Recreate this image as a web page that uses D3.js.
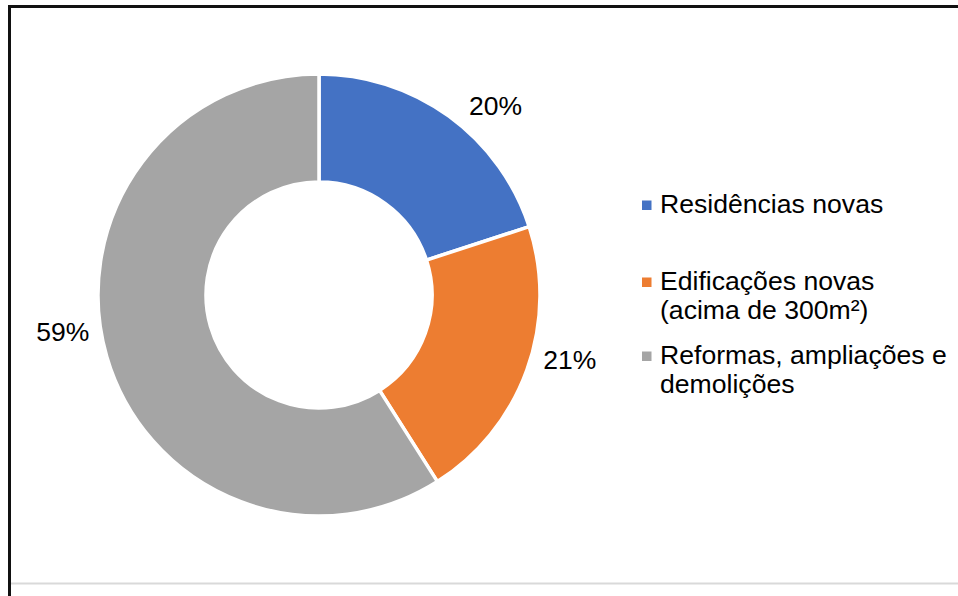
<!DOCTYPE html>
<html>
<head>
<meta charset="utf-8">
<script src="https://cdn.jsdelivr.net/npm/d3@7"></script>
<style>
  html, body { margin: 0; padding: 0; background: #fff; }
  svg { display: block; }
  text { font-family: "Liberation Sans", Arial, sans-serif; fill: #000; }
</style>
</head>
<body>
<svg id="chart" width="958" height="596"></svg>
<script>
// Share of each category (percent)
const categories = ["Residências novas", "Edificações novas (acima de 300m²)", "Reformas, ampliações e demolições"];
const values = [20, 21, 59];
const valueLabels = ["20%", "21%", "59%"];
// Legend text, broken into lines
const legendLines = [["Residências novas"], ["Edificações novas", "(acima de 300m²)"], ["Reformas, ampliações e", "demolições"]];
const colors = ["#4472C4", "#ED7D31", "#A5A5A5"];

const svg = d3.select("#chart");
const W = 958, H = 596;

// Frame: dark outline and a light rule near the bottom
svg.append("rect")
  .attr("x", 9.5).attr("y", 6.5)
  .attr("width", W + 20).attr("height", H + 20)
  .attr("fill", "none").attr("stroke", "#111").attr("stroke-width", 3);
svg.append("line")
  .attr("x1", 11).attr("x2", W).attr("y1", 583.5).attr("y2", 583.5)
  .attr("stroke", "#d9d9d9").attr("stroke-width", 2);

// Doughnut
const cx = 319, cy = 295, outerR = 221, innerR = 113;
const pie = d3.pie().sort(null).value(d => d)(values);
const arc = d3.arc().innerRadius(innerR).outerRadius(outerR);

const g = svg.append("g").attr("transform", `translate(${cx},${cy})`);
g.selectAll("path.slice")
  .data(pie)
  .join("path")
  .attr("class", "slice")
  .attr("d", arc)
  .attr("fill", (d, i) => colors[i])
  .attr("stroke", "#fff")
  .attr("stroke-width", 3.5)
  .attr("stroke-linejoin", "miter");

// Percentage labels placed around the ring (angle in degrees from 12 o'clock)
const labelAngles = [43, 104.5, 261.7];
const labelR = 259;
g.selectAll("text.pct")
  .data(pie)
  .join("text")
  .attr("class", "pct")
  .attr("x", (d, i) => labelR * Math.sin(labelAngles[i] * Math.PI / 180))
  .attr("y", (d, i) => -labelR * Math.cos(labelAngles[i] * Math.PI / 180) + 9)
  .attr("text-anchor", "middle")
  .attr("font-size", 26.5)
  .text((d, i) => valueLabels[i]);

// Legend
const legendX = 642, textX = 660, lineH = 28.5;
const legendTop = [213, 290, 364];
const legend = svg.append("g");
legendLines.forEach((lines, i) => {
  legend.append("rect")
    .attr("x", legendX).attr("y", legendTop[i] - 12.5)
    .attr("width", 9.5).attr("height", 9.5)
    .attr("fill", colors[i]);
  const t = legend.append("text")
    .attr("x", textX).attr("y", legendTop[i])
    .attr("font-size", 26.6);
  lines.forEach((ln, j) => {
    t.append("tspan").attr("x", textX).attr("y", legendTop[i] + j * lineH).text(ln);
  });
});
</script>
</body>
</html>
